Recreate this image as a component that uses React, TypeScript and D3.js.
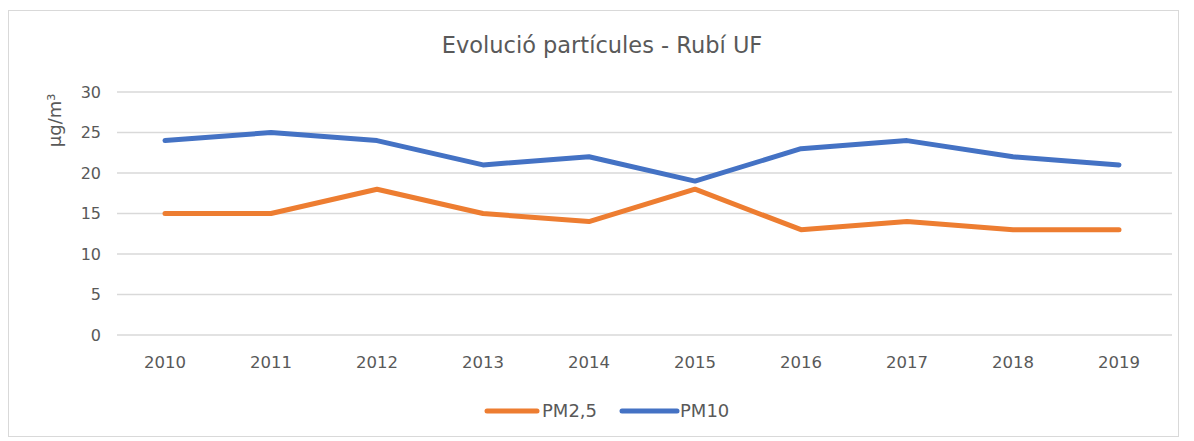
import React from 'react';
import * as d3 from 'd3';

const years = ['2010', '2011', '2012', '2013', '2014', '2015', '2016', '2017', '2018', '2019'];
const pm25 = [15, 15, 18, 15, 14, 18, 13, 14, 13, 13];
const pm10 = [24, 25, 24, 21, 22, 19, 23, 24, 22, 21];
const yTicks = [0, 5, 10, 15, 20, 25, 30];

const seriesList = [
  { name: 'PM2,5', values: pm25, color: '#ED7D31' },
  { name: 'PM10', values: pm10, color: '#4472C4' },
];

const W = 1194;
const H = 441;
const font = '"DejaVu Sans", Verdana, sans-serif';
const textColor = '#595959';

const App = () => {
  const margin = { top: 92, right: 22, bottom: 106, left: 112 };

  const x = d3
    .scaleBand()
    .domain(years)
    .range([margin.left, W - margin.right]);

  const y = d3
    .scaleLinear()
    .domain([0, 30])
    .range([H - margin.bottom, margin.top]);

  const line = d3
    .line<number>()
    .x((_, i) => x(years[i])! + x.bandwidth() / 2)
    .y((d) => y(d));

  return (
    <svg
      width={W}
      height={H}
      style={{ position: 'absolute', left: 0, top: 0, background: '#fff' }}
      fontFamily={font}
    >
      {/* chart frame */}
      <rect x={8.5} y={10.5} width={1170} height={426} fill="#fff" stroke="#d9d9d9" strokeWidth={1} />

      <text x={602} y={53} textAnchor="middle" fontSize={22.5} fill={textColor}>
        Evolució partícules - Rubí UF
      </text>

      {/* grid + y ticks */}
      {yTicks.map((t) => (
        <g key={t}>
          <line
            x1={margin.left + 5}
            x2={W - margin.right}
            y1={y(t)}
            y2={y(t)}
            stroke="#d9d9d9"
            strokeWidth={1.5}
          />
          <text x={101} y={y(t)} dy="0.35em" textAnchor="end" fontSize={16} fill={textColor}>
            {t}
          </text>
        </g>
      ))}

      <text
        transform={`translate(55, ${y(26.5)}) rotate(-90)`}
        textAnchor="middle"
        dy="0.35em"
        fontSize={18}
        fill={textColor}
      >
        µg/m³
      </text>

      {/* x labels */}
      {years.map((yr) => (
        <text
          key={yr}
          x={x(yr)! + x.bandwidth() / 2}
          y={368}
          textAnchor="middle"
          fontSize={16.5}
          fill={textColor}
        >
          {yr}
        </text>
      ))}

      {/* series */}
      {seriesList.map((s) => (
        <path
          key={s.name}
          d={line(s.values) || ''}
          fill="none"
          stroke={s.color}
          strokeWidth={5}
          strokeLinejoin="round"
          strokeLinecap="round"
        />
      ))}

      {/* legend */}
      <g>
        <line x1={487} x2={537} y1={411} y2={411} stroke="#ED7D31" strokeWidth={5} strokeLinecap="round" />
        <text x={542} y={411} dy="0.35em" fontSize={18} fill={textColor}>PM2,5</text>
        <line x1={622} x2={677} y1={411} y2={411} stroke="#4472C4" strokeWidth={5} strokeLinecap="round" />
        <text x={680} y={411} dy="0.35em" fontSize={18} fill={textColor}>PM10</text>
      </g>
    </svg>
  );
};

export default App;
